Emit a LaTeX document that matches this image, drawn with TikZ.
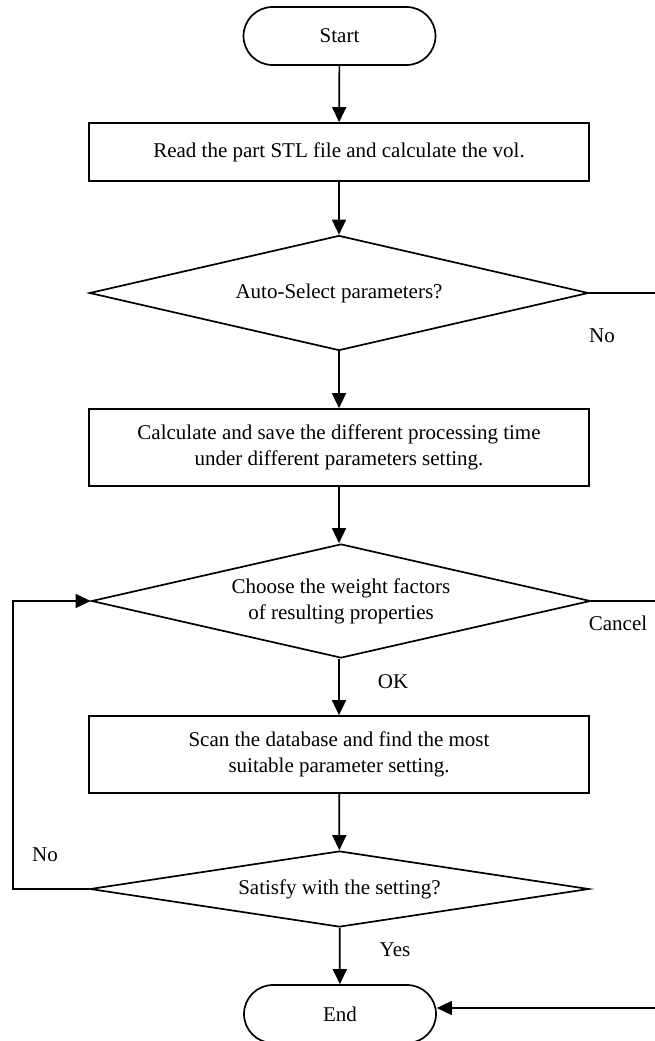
\documentclass[tikz,border=0pt]{standalone}
\usepackage{fontspec}
\setmainfont{Liberation Serif}
\usetikzlibrary{shapes.geometric,shapes.misc,arrows.meta}

\begin{document}
\begin{tikzpicture}[x=1pt,y=-1pt,
  every node/.style={font=\fontsize{21}{26}\selectfont},
  line/.style={line width=1.7pt},
  arr/.style={line width=1.7pt, -{Triangle[length=15pt,width=14pt]}},
  terminal/.style={rounded rectangle, draw, line width=1.7pt,
    minimum width=192pt, minimum height=58pt, inner sep=0pt},
  process/.style={rectangle, draw, line width=1.7pt,
    minimum width=500pt, align=center, inner sep=0pt},
  decision/.style={diamond, draw, line width=1.7pt, aspect=4.3,
    minimum width=499pt, align=center, inner sep=0pt},
  tag/.style={inner sep=0pt}
]
\useasboundingbox (0,0) rectangle (655,1041);
\fill[white] (0,0) rectangle (655,1041);
\clip (0,0) rectangle (655,1041);

% main column
\node[terminal] (start) at (339.5,36) {Start};
\node[process, minimum height=58pt] (read) at (339,152)
  {Read the part STL file and calculate the vol.};
\node[decision, minimum height=115pt] (auto) at (339,293)
  {Auto-Select parameters?};
\node[process, minimum height=77pt] (calc) at (339,447.5)
  {Calculate and save the different processing time\\under different parameters setting.};
\node[decision, minimum height=114pt] (weight) at (341,601)
  {Choose the weight factors\\of resulting properties};
\node[process, minimum height=77pt] (scan) at (339,754.5)
  {Scan the database and find the most\\suitable parameter setting.};
\node[decision, minimum height=76pt] (satisfy) at (339.5,889)
  {Satisfy with the setting?};
\node[terminal] (finish) at (340,1014) {End};

% branch labels
\node[tag] (lno1) at (602,336) {No};
\node[tag] (lcancel) at (618,623) {Cancel};
\node[tag] (lok) at (393,682) {OK};
\node[tag] (lno2) at (45,855) {No};
\node[tag] (lyes) at (395,950) {Yes};

% straight flow
\draw[arr] (start) -- (read);
\draw[arr] (read) -- (auto);
\draw[arr] (auto) -- (calc);
\draw[arr] (calc) -- (weight.north -| calc.south);
\draw[arr] (weight.south -| scan.north) -- (scan);
\draw[arr] (scan) -- (satisfy);
\draw[arr] (satisfy) -- (finish);

% retry loop on the left
\coordinate (loopx) at (13,0);
\draw[arr] (satisfy.west) -- (satisfy.west -| loopx) |- (weight.west);

% bypass rail on the right
\coordinate (railtop) at (680,293);
\coordinate (railbot) at (680,1008);
\draw[line] (auto.east) -- (railtop) -- (railbot);
\draw[line] (weight.east) -- (weight.east -| railtop);
\draw[arr] (railbot) -- (railbot -| finish.east);
\end{tikzpicture}
\end{document}
